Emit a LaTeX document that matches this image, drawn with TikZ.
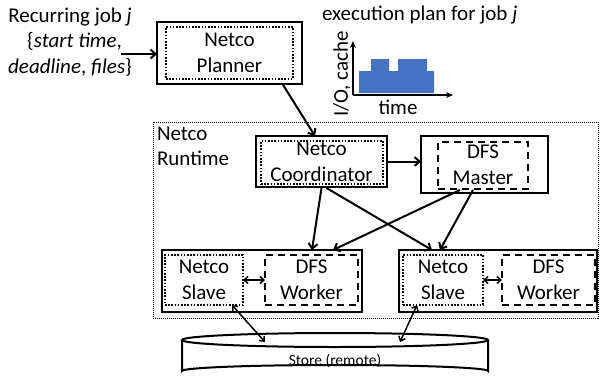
\documentclass[tikz,border=0pt]{standalone}
\usepackage{fontspec}
\setmainfont{Carlito}
\usetikzlibrary{arrows.meta,calc}
\definecolor{barblue}{HTML}{4472C4}
\begin{document}
\begin{tikzpicture}[x=1pt,y=-1pt,
  every node/.style={inner sep=0pt,outer sep=0pt},
  txt/.style={font=\fontsize{21}{25.5}\selectfont,align=center},
  outerbox/.style={draw,line width=2.4pt,rectangle},
  dotbox/.style={draw,line width=2pt,dash pattern=on 1.6pt off 1.6pt,rectangle},
  dashbox/.style={draw,line width=2pt,dash pattern=on 7pt off 5pt,rectangle},
  conn/.style={line width=2pt,-{Straight Barb[length=5pt,width=9pt]}},
  dconn/.style={line width=1.5pt,{Straight Barb[length=4pt,width=7pt]}-{Straight Barb[length=4pt,width=7pt]}},
]
\useasboundingbox (0,0) rectangle (600,381);

% Runtime dotted region
\draw[line width=1pt,dash pattern=on 1pt off 1pt] (153,122) rectangle (598,318);
\node[txt,align=left,anchor=north west] (rtlabel) at (157,127) {Netco\\Runtime};

% Recurring job text
\node[txt] (job) at (70,42) {Recurring job \textit{j}\\\phantom{x}\{\textit{start time},\\\textit{deadline}, \textit{files}\}};

% Planner
\node[outerbox,minimum width=145pt,minimum height=62pt] (planner) at (229.5,53) {};
\node[dotbox,minimum width=127pt,minimum height=52pt] (plannerin) at (229.5,53) {};
\node[txt] (plannertxt) at (229.5,53) {Netco\\Planner};
\coordinate (jobend) at (121,54);
\draw[conn] (jobend) -- (jobend -| planner.west);

% execution plan
\node[txt,anchor=west] (plantitle) at (322,15) {execution plan for job \textit{j}};
\coordinate (origin) at (353,95);
\coordinate (ytip) at (353,41);
\coordinate (xtip) at (453,95);
\fill[barblue] (359,93) -- (434,93) -- (434,71) -- (427,71) -- (427,59) -- (398,59) -- (398,71) -- (389,71) -- (389,59) -- (371,59) -- (371,71) -- (359,71) -- cycle;
\draw[line width=2pt,-{Stealth[length=7pt,width=6pt]}] (origin) -- (ytip);
\draw[line width=2pt,-{Stealth[length=7pt,width=6pt]}] (origin) -- (xtip);
\node[txt] (timelbl) at (398,107) {time};
\node[txt,rotate=90] (iolbl) at (342,74) {I/O, cache};

% Coordinator
\node[outerbox,minimum width=131pt,minimum height=51pt] (coord) at (321.5,161.5) {};
\node[dotbox,minimum width=122pt,minimum height=43pt] (coordin) at (322,162.5) {};
\node[txt] (coordtxt) at (321.5,162) {Netco\\Coordinator};

% Master
\node[outerbox,minimum width=127pt,minimum height=57pt] (master) at (484.5,164.5) {};
\node[dashbox,minimum width=90pt,minimum height=47pt] (masterin) at (483,165.5) {};
\node[txt] (mastertxt) at (483,165) {DFS\\Master};

% Slave boxes left
\node[outerbox,minimum width=200pt,minimum height=62pt] (slaveL) at (262,281) {};
\node[dotbox,minimum width=78pt,minimum height=50pt] (nsL) at (204,280) {};
\node[dashbox,minimum width=93pt,minimum height=50pt] (dwL) at (311.5,280) {};
\node[txt] (nsLt) at (204,280) {Netco\\Slave};
\node[txt] (dwLt) at (311.5,280) {DFS\\Worker};

% Slave boxes right
\node[outerbox,minimum width=198pt,minimum height=62pt] (slaveR) at (498,281) {};
\node[dotbox,minimum width=80pt,minimum height=50pt] (nsR) at (443,280) {};
\node[dashbox,minimum width=93pt,minimum height=50pt] (dwR) at (548.5,280) {};
\node[txt] (nsRt) at (443,280) {Netco\\Slave};
\node[txt] (dwRt) at (548.5,280) {DFS\\Worker};

% connectors
\draw[conn] ([xshift=53pt]planner.south) -- ([xshift=-6.5pt]coord.north);
\draw[conn] (coord.east) -- (coord.east -| master.west);
\draw[conn] ([yshift=-1pt]coord.south) -- ([xshift=50pt]slaveL.north);
\draw[conn] ([xshift=5pt,yshift=-1pt]coord.south) -- ([xshift=-66pt]slaveR.north);
\draw[conn] ([xshift=-24.5pt,yshift=3pt]master.south) -- ([xshift=71pt]slaveL.north);
\draw[conn] ([xshift=-11.5pt,yshift=3pt]master.south) -- ([xshift=-58pt]slaveR.north);
\draw[dconn] (nsL.east) -- (dwL.west);
\draw[dconn] (nsR.east) -- (dwR.west);

% Store
\draw[line width=2pt,fill=white] (182,340) -- (182,371) arc[start angle=180,end angle=360,x radius=153,y radius=6] -- (488,340);
\draw[line width=2pt,fill=white] (335,340) ellipse[x radius=153,y radius=7];
\node[font=\fontsize{15.5}{18}\selectfont] (store) at (335,361) {Store (remote)};
\coordinate (stL) at (265,342);
\coordinate (stR) at (400,342);
\draw[dconn] ([xshift=28pt]nsL.south) -- (stL);
\draw[dconn] ([xshift=-26pt]nsR.south) -- (stR);
\end{tikzpicture}
\end{document}
